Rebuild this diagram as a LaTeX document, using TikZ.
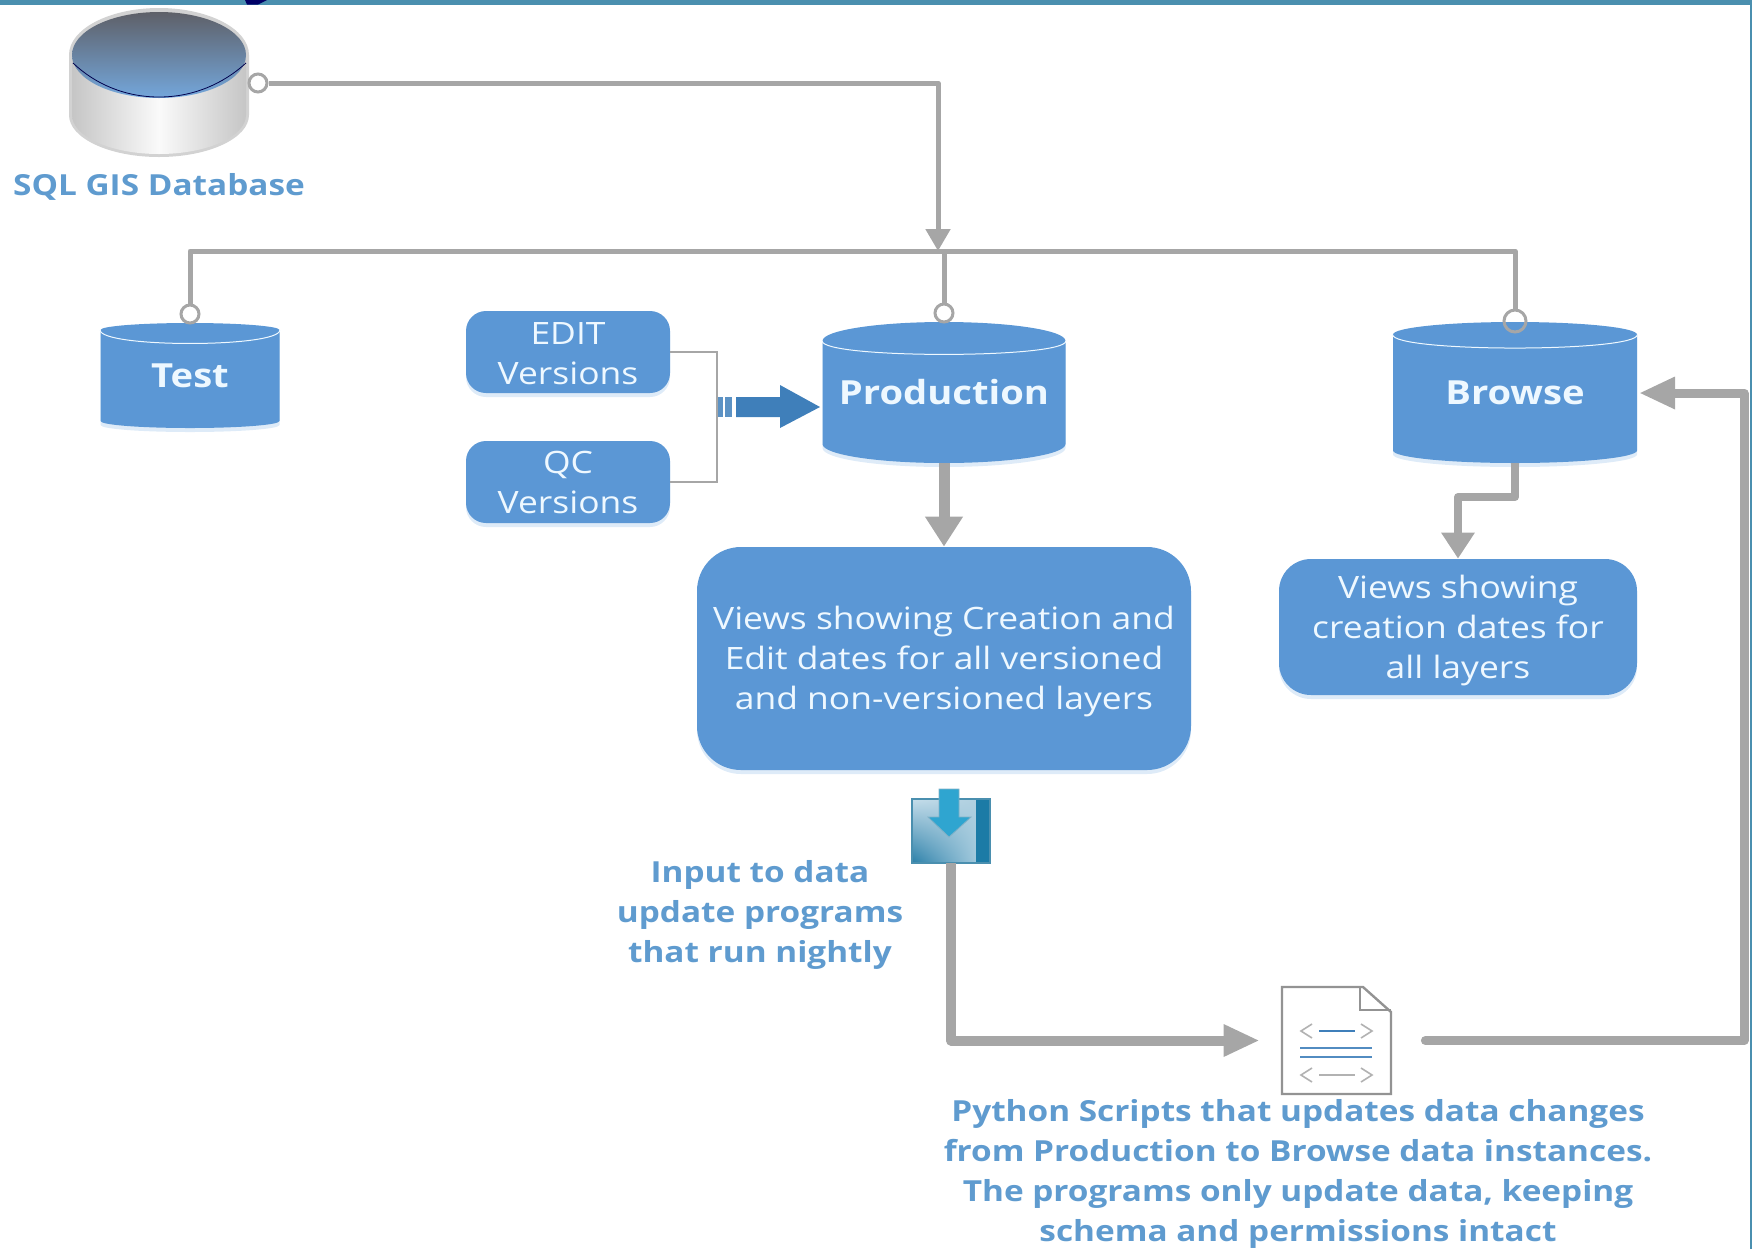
\documentclass[tikz,border=0pt]{standalone}
\usepackage{fontspec}
\setmainfont[FakeStretch=1.15]{Open Sans}
\usetikzlibrary{arrows.meta,calc,shapes.geometric,shadows,shadings}
\definecolor{nodeblue}{HTML}{5B97D5}
\definecolor{darkblue}{HTML}{3F7FBA}
\definecolor{labelblue}{HTML}{5F9BCF}
\definecolor{icetext}{HTML}{EEF8FF}
\definecolor{linegray}{HTML}{A6A6A6}
\definecolor{barteal}{HTML}{4A8FAF}
\definecolor{glow}{HTML}{D6E6F6}
\definecolor{dbtop}{HTML}{5E6068}
\definecolor{iconul}{HTML}{C5DDEA}
\definecolor{iconur}{HTML}{B0D0E0}
\definecolor{iconlr}{HTML}{A0C8DC}
\definecolor{iconll}{HTML}{2A7FA8}
\definecolor{iconstrip}{HTML}{1C7BA6}
\definecolor{iconarrow}{HTML}{2FA5D0}
\tikzset{
  softshadow/.style={drop shadow={shadow xshift=0pt,shadow yshift=-2pt,fill=glow,opacity=.8}},
  dbcyl/.style={cylinder,shape border rotate=90,anchor=shape center,fill=nodeblue,text=icetext,inner sep=0pt,softshadow,
    font={\fontsize{16.6}{20}\selectfont\bfseries}},
  softbox/.style={rectangle,fill=nodeblue,text=icetext,align=center,inner sep=0pt,softshadow,
    font={\fontsize{15.4}{20}\selectfont}},
  bluelabel/.style={text=labelblue,align=center,inner sep=0pt,
    font={\fontsize{14.5}{20}\selectfont\bfseries}},
  port/.style={circle,draw=linegray,fill=white,line width=1.5pt,minimum size=9pt,inner sep=0pt},
  busline/.style={draw=linegray,line width=2.5pt,line join=round},
  flowline/.style={draw=linegray,line width=4.5pt,line join=round},
}
\begin{document}
\begin{tikzpicture}[x=0.5pt,y=-0.5pt]
  \useasboundingbox (0,0) rectangle (1752,1249);
  % Frame of the slide
  \fill[barteal] (0,0) rectangle (1752,4.5);
  \fill[barteal] (1750,0) rectangle (1752,1249);
  \fill[black!20!blue!50!black] (245,0) -- (267,0) -- (258,4.5) -- (247,4.5) -- cycle;
  % Node: sqldb
  \node[minimum width=90pt,minimum height=74.5pt,inner sep=0pt] (sqldb) at (159,83) {};
  \fill[gray!35] (69,55) -- (69,115) arc[start angle=180,end angle=0,x radius=90,y radius=42]
    -- (249,55) arc[start angle=0,end angle=-180,x radius=90,y radius=47] -- cycle;
  \shade[left color=gray!45,right color=gray!45,middle color=gray!4] (72,60) -- (72,115)
    arc[start angle=180,end angle=0,x radius=87,y radius=39] -- (246,60) -- cycle;
  \shade[top color=dbtop,bottom color=nodeblue!85!white,draw=none] (159,55) ellipse (87 and 43);
  \draw[black!70!blue,line width=.4pt] (73,63) .. controls (95,84) and (125,97) .. (159,97)
    .. controls (193,97) and (223,84) .. (246,63);
  \node[bluelabel] (sqllabel) at (159,187) {SQL GIS Database};
  % Node: test
  \node[dbcyl,aspect=.18,text depth=4pt,minimum width=89.5pt,minimum height=52.5pt] (test) at (190,375.5) {Test};
  % Node: prod
  \node[dbcyl,aspect=.18,text depth=10pt,minimum width=121.5pt,minimum height=70.5pt] (prod) at (944,392.5) {Production};
  % Node: brws
  \node[dbcyl,aspect=.18,text depth=6.5pt,minimum width=122pt,minimum height=70.5pt] (brws) at (1515,392.5) {Browse};
  \foreach \n in {test,prod,brws}
    \draw[icetext,line width=.5pt] (\n.before top) .. controls ($(\n.before top)+(0,18)$) and ($(\n.after top)+(0,18)$) .. (\n.after top);
  % Node: editver, qcver
  \node[softbox,rounded corners=10pt,minimum width=102pt,minimum height=41pt] (editver) at (568,352) {\rule{0pt}{12.5pt}EDIT\\Versions};
  \node[softbox,rounded corners=10pt,minimum width=102pt,minimum height=41pt] (qcver) at (568,482) {QC\\Versions};
  % Node: prodviews, brwsviews
  \node[softbox,rounded corners=22pt,minimum width=247pt,minimum height=111.5pt] (prodviews) at (944,658.5)
    {\rule{0pt}{15pt}Views showing Creation and\\Edit dates for all versioned\\and non-versioned layers};
  \node[softbox,rounded corners=16pt,minimum width=179pt,minimum height=68pt] (brwsviews) at (1458,627)
    {\rule{0pt}{15pt}Views showing\\creation dates for\\all layers};
  % Node: saveicon
  \node[minimum width=39pt,minimum height=32pt,inner sep=0pt] (saveicon) at (951,831) {};
  \shade[shading=bilinear interpolation,lower left=iconll,upper left=iconul,upper right=iconur,lower right=iconlr] (912,799) rectangle (976,863);
  \fill[iconstrip] (976,799) rectangle (990,863);
  \draw[barteal,line width=.75pt] (912,799) rectangle (990,863);
  \fill[iconarrow,draw=barteal!70,line width=.4pt]
    (939,789) -- (959,789) -- (959,817) -- (971,817) -- (949,837) -- (928,817) -- (939,817) -- cycle;
  \node[bluelabel] (inputlabel) at (760,915) {Input to data\\update programs\\that run nightly};
  % Node: scriptdoc
  \node[minimum width=54.5pt,minimum height=53.5pt,inner sep=0pt] (scriptdoc) at (1336.5,1040.5) {};
  \draw[gray!85,line width=1.2pt,line join=miter,fill=white] (1282,987) -- (1363,987) -- (1391,1012) -- (1391,1094) -- (1282,1094) -- cycle;
  \draw[gray!85,line width=1.2pt] (1360,987) -- (1360,1010) -- (1391,1010);
  \foreach \yy/\cc in {1031/darkblue,1075/gray!60}{
    \draw[gray!60,line width=.8pt] (1312,\yy-7) -- (1301,\yy) -- (1312,\yy+7);
    \draw[gray!60,line width=.8pt] (1361,\yy-7) -- (1372,\yy) -- (1361,\yy+7);
    \draw[\cc,line width=.8pt] (1319,\yy) -- (1355,\yy);
  }
  \draw[darkblue!90,line width=.9pt] (1300,1048) -- (1372,1048) (1300,1057) -- (1372,1057);
  \node[bluelabel] (scriptlabel) at (1298,1174) {Python Scripts that updates data changes\\from Production to Browse data instances.\\The programs only update data, keeping\\schema and permissions intact};
  % Ports on the database lines
  \node[port] (dbport) at (258,83) {};
  \node[port] (testport) at (190,314) {};
  \node[port] (prodport) at (944,313) {};
  \node[port,fill=none,minimum size=11pt] (brwsport) at (1515,321) {};
  \coordinate (bus) at (944,251);
  \coordinate (bushit) at (938,251);
  \coordinate (brwshit) at (1639,393);
  % Edge: sqldb -> bus
  \draw[busline,-{Triangle[length=11pt,width=12pt]}] (dbport.east) -| (bushit);
  % Edge: bus -> test, prod, brws
  \draw[busline] (testport.north) |- (bus) -| (brwsport.north);
  \draw[busline] (bus) -- (prodport.north);
  % Edge: editver, qcver -> prod
  \draw[linegray,line width=1pt] (editver.east) -| (717,407) |- (qcver.east);
  \fill[darkblue] (736,397) -- (780,397) -- (780,385) -- (820,407) -- (780,428) -- (780,417) -- (736,417) -- cycle;
  \fill[darkblue!85] (718,397) rectangle (723,417);
  \fill[darkblue!85] (725,397) rectangle (732,417);
  % Edge: prod -> prodviews
  \draw[flowline,line width=5.5pt,-{Triangle[length=15pt,width=18pt]}] (prod.south) -- (prodviews.north);
  % Edge: brws -> brwsviews
  \draw[flowline,line width=4pt,-{Triangle[length=13pt,width=16pt]}] (brws.south) |- (1458,497) -- (brwsviews.north);
  % Edge: saveicon -> scriptdoc
  \draw[flowline,line width=5pt,-{Triangle[length=18pt,width=15pt]},shorten >=11pt] (saveicon.south) |- (scriptdoc.west);
  % Edge: scriptdoc -> brws
  \draw[flowline,line cap=round,-{Triangle[length=18pt,width=15pt]},shorten <=17pt] (scriptdoc.east) -| (1744,393) -- (brwshit);
\end{tikzpicture}
\end{document}
